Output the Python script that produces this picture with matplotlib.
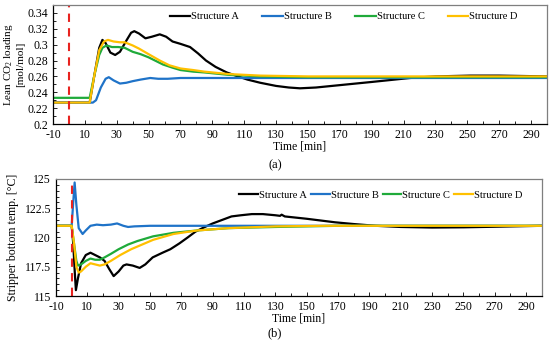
import matplotlib
matplotlib.use("Agg")
import matplotlib.pyplot as plt
from matplotlib.ticker import MultipleLocator

plt.rcParams['font.family'] = ['Liberation Serif', 'DejaVu Serif']
plt.rcParams['mathtext.fontset'] = 'custom'
plt.rcParams['mathtext.rm'] = 'Liberation Serif'
plt.rcParams['axes.unicode_minus'] = False

# ---------- panel (a): lean CO2 loading ----------
ta_A = [-10, 0, 13, 16, 19, 21, 23, 26, 29, 32, 36, 39, 41, 44, 48, 52, 57, 61, 65, 70, 76, 81, 86, 92, 99, 106, 112, 120, 130, 138, 145, 155, 170, 190, 214, 230, 252, 270, 300]
a_A = [0.227, 0.227, 0.227, 0.262, 0.296, 0.306, 0.302, 0.290, 0.287, 0.291, 0.305, 0.315, 0.317, 0.314, 0.308, 0.310, 0.313, 0.310, 0.304, 0.301, 0.297, 0.289, 0.280, 0.272, 0.265, 0.260, 0.256, 0.252, 0.248, 0.246, 0.245, 0.246, 0.249, 0.253, 0.258, 0.260, 0.261, 0.261, 0.260]

ta_B = [-10, 0, 15, 17, 20, 23, 25, 28, 32, 36, 40, 45, 51, 56, 62, 70, 90, 120, 300]
a_B = [0.227, 0.227, 0.227, 0.230, 0.246, 0.257, 0.259, 0.255, 0.251, 0.252, 0.254, 0.256, 0.258, 0.257, 0.257, 0.258, 0.258, 0.258, 0.258]

ta_C = [-10, 0, 13, 16, 19, 21, 23.5, 27, 31, 35, 40, 45, 50, 55, 59, 65, 70, 78, 85, 100, 120, 150, 300]
a_C = [0.233, 0.233, 0.233, 0.262, 0.287, 0.296, 0.299, 0.297, 0.297, 0.296, 0.291, 0.288, 0.284, 0.279, 0.275, 0.271, 0.268, 0.266, 0.265, 0.262, 0.260, 0.259, 0.259]

ta_D = [-10, 0, 13, 16, 19, 22, 24.5, 28, 32, 35, 40, 44, 50, 57, 63, 70, 78, 85, 100, 120, 150, 300]
a_D = [0.227, 0.227, 0.227, 0.262, 0.293, 0.304, 0.306, 0.304, 0.303, 0.303, 0.299, 0.295, 0.288, 0.280, 0.274, 0.270, 0.268, 0.266, 0.263, 0.261, 0.260, 0.260]

# ---------- panel (b): stripper bottom temperature ----------
tb_A = [-10, 0, 1, 2, 2.7, 4, 6, 9, 12, 15, 18, 21, 24, 26.8, 30, 33, 35, 39, 43.4, 47, 51.7, 58, 63, 68.8, 74, 79, 85, 90, 96, 102, 108, 115, 122, 130, 133, 134, 136, 150, 168, 180, 194, 210, 230, 250, 270, 300]
b_A = [121.0, 121.0, 119.5, 117.0, 115.5, 116.5, 117.8, 118.5, 118.7, 118.5, 118.3, 118.0, 117.3, 116.7, 117.1, 117.6, 117.7, 117.6, 117.4, 117.7, 118.3, 118.7, 119.0, 119.5, 120.0, 120.5, 120.9, 121.2, 121.5, 121.8, 121.9, 122.0, 122.0, 121.9, 121.85, 121.95, 121.8, 121.6, 121.3, 121.15, 121.0, 120.9, 120.85, 120.87, 120.92, 121.0]

tb_B = [-10, 0, 1, 1.9, 3, 4.5, 7, 9, 12, 16, 20, 25, 29, 33, 36, 40, 50, 70, 300]
b_B = [121.0, 121.0, 123.0, 124.7, 122.8, 120.8, 120.3, 120.6, 121.0, 121.1, 121.05, 121.1, 121.2, 121.0, 120.9, 120.95, 121.0, 121.0, 121.0]

tb_C = [-10, 0, 1.5, 3, 4, 6, 9, 12, 15, 18, 21, 25, 30, 36, 42, 52, 65, 80, 100, 130, 170, 300]
b_C = [121.0, 121.0, 119.5, 118.0, 117.6, 117.7, 118.0, 118.2, 118.1, 118.1, 118.3, 118.6, 119.0, 119.4, 119.7, 120.1, 120.4, 120.6, 120.8, 120.9, 121.0, 121.0]

tb_D = [-10, 0, 1.5, 3, 4.5, 6, 9, 12, 15, 18, 21, 25, 31, 38, 45, 52, 65, 80, 100, 130, 160, 300]
b_D = [121.0, 121.0, 119.5, 117.5, 117.0, 117.1, 117.5, 117.8, 117.7, 117.6, 117.7, 118.0, 118.5, 119.0, 119.4, 119.8, 120.3, 120.6, 120.8, 120.95, 121.0, 121.0]

labels = ['Structure A', 'Structure B', 'Structure C', 'Structure D']
colors = ['#000000', '#1f73c8', '#1faa3a', '#ffc000']
xticks = list(range(-10, 300, 20))

fig = plt.figure(figsize=(5.5, 3.44), dpi=100)
ax1 = fig.add_axes([0.0964, 0.6395, 0.8981, 0.346])
ax2 = fig.add_axes([0.1018, 0.1395, 0.8832, 0.3402])

def style(ax):
    for s in ax.spines.values():
        s.set_color('#7f7f7f')
        s.set_linewidth(0.9)
    ax.spines['left'].set_color('#000000')
    ax.spines['bottom'].set_color('#000000')
    ax.tick_params(direction='in', which='both', labelsize=8.5, length=3, width=0.6,
                   top=False, right=False)
    ax.tick_params(which='minor', length=2)
    ax.set_xlim(-10, 300)
    ax.set_xticks(xticks)
    ax.xaxis.set_minor_locator(MultipleLocator(10))

for t, v, c, l in zip([ta_A, ta_B, ta_C, ta_D], [a_A, a_B, a_C, a_D], colors, labels):
    ax1.plot(t, v, color=c, lw=1.6, label=l)
ax1.axvline(0, color='#e8231f', ls=(0, (4, 3)), lw=1.5)
style(ax1)
ax1.set_ylim(0.2, 0.35)
ax1.set_yticks([0.2, 0.22, 0.24, 0.26, 0.28, 0.3, 0.32, 0.34])
ax1.set_yticklabels(['0.2', '0.22', '0.24', '0.26', '0.28', '0.3', '0.32', '0.34'])
ax1.yaxis.set_minor_locator(MultipleLocator(0.01))
ax1.set_ylabel('Lean CO$_2$ loading\n[mol/mol]', fontsize=8, linespacing=1.05, labelpad=2)
ax1.set_xlabel('Time [min]', fontsize=8.5, labelpad=0)
ax1.legend(loc='upper right', ncol=4, frameon=False, fontsize=7.5, handlelength=2.0,
           handletextpad=0.1, columnspacing=2.2, bbox_to_anchor=(0.96, 1.02))
fig.text(0.5, 0.52, '(a)', ha='center', va='center', fontsize=9)

for t, v, c, l in zip([tb_A, tb_B, tb_C, tb_D], [b_A, b_B, b_C, b_D], colors, labels):
    ax2.plot(t, v, color=c, lw=1.6, label=l)
ax2.axvline(0, color='#e8231f', ls=(0, (4, 3)), lw=1.5)
style(ax2)
ax2.set_ylim(115, 125)
ax2.set_yticks([115, 117.5, 120, 122.5, 125])
ax2.set_yticklabels(['115', '117.5', '120', '122.5', '125'])
ax2.yaxis.set_minor_locator(MultipleLocator(0.5))
ax2.set_ylabel('Stripper bottom temp. [\u00b0C]', fontsize=8.5)
ax2.set_xlabel('Time [min]', fontsize=8.5, labelpad=0)
ax2.legend(loc='upper right', ncol=4, frameon=False, fontsize=7.5, handlelength=1.8,
           handletextpad=0.1, columnspacing=0.4, bbox_to_anchor=(0.98, 0.98))
fig.text(0.5, 0.03, '(b)', ha='center', va='center', fontsize=9)

fig.savefig('out.png', dpi=100)
